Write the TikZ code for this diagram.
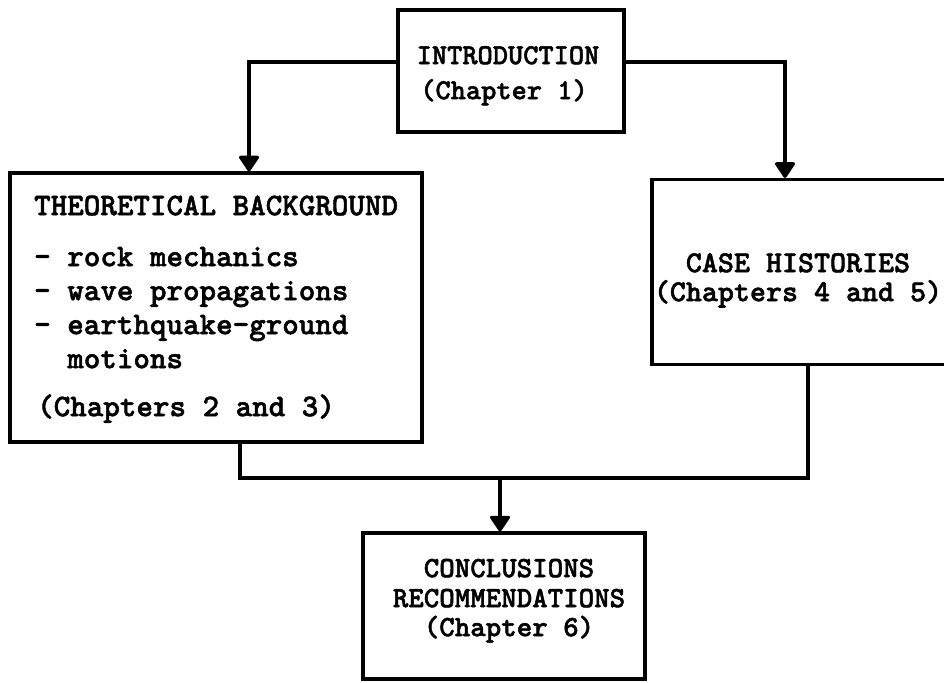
\documentclass[tikz,border=0pt]{standalone}
\usepackage{fontspec}
\newfontfamily\twfont[FakeBold=1.6]{lmmonolt10-bold.otf}
\usetikzlibrary{arrows.meta}
\begin{document}
\begin{tikzpicture}[x=1pt,y=-1pt,
  box/.style={draw, line width=3.2pt, inner sep=0pt, minimum width=#1},
  txt/.style={font=\twfont\bfseries\fontsize{#1}{30}\selectfont, inner sep=0pt},
  txt/.default=29.5,
  conn/.style={line width=3.2pt},
  arr/.style={conn, -{Triangle[width=22pt,length=17pt,round]}}]
\useasboundingbox (0,0) rectangle (944,682);
% boxes
\node[box=226pt, minimum height=122pt] (intro) at (511,71) {};
\node[box=412pt, minimum height=269pt] (theory) at (216,307.5) {};
\node[box=300pt, minimum height=185pt] (case) at (802,272) {};
\node[box=282pt, minimum height=146pt] (concl) at (504,606) {};
% texts
\node[txt=29, anchor=mid] (t1) at (508,62) {INTRODUCTION};
\node[txt=29, anchor=mid] (t2) at (504,97) {(Chapter 1)};
\node[txt=31.5, anchor=mid west] (t3) at (34,213) {THEORETICAL BACKGROUND};
\node[txt=31.5, anchor=mid west] (t4) at (34,264) {- rock mechanics};
\node[txt=31.5, anchor=mid west] (t5) at (34,298) {- wave propagations};
\node[txt=31.5, anchor=mid west] (t6) at (34,332) {- earthquake-ground};
\node[txt=31.5, anchor=mid west] (t7) at (34,366) {\ \ motions};
\node[txt=31.5, anchor=mid west] (t8) at (37,414) {(Chapters 2 and 3)};
\node[txt=30.5, anchor=mid] (t9) at (798,270) {CASE HISTORIES};
\node[txt=30.5, anchor=mid] (t10) at (798,299) {(Chapters 4 and 5)};
\node[txt=29.5, anchor=mid] (t11) at (509,575) {CONCLUSIONS};
\node[txt=29.5, anchor=mid] (t12) at (509,605) {RECOMMENDATIONS};
\node[txt=29.5, anchor=mid] (t13) at (509,634) {(Chapter 6)};
% connector coordinates
\coordinate (la) at (249,62);
\coordinate (ra) at (785,62);
\coordinate (lb) at (240,478);
\coordinate (rb) at (808,478);
\coordinate (m) at (500,478);
% connectors
\draw[arr] (intro.west |- la) -| (theory.north -| la);
\draw[arr] (intro.east |- ra) -| (case.north -| ra);
\draw[conn] (theory.south -| lb) -- (lb) -- (rb) -- (case.south -| rb);
\draw[arr] (m) -- (concl.north -| m);
\end{tikzpicture}
\end{document}
